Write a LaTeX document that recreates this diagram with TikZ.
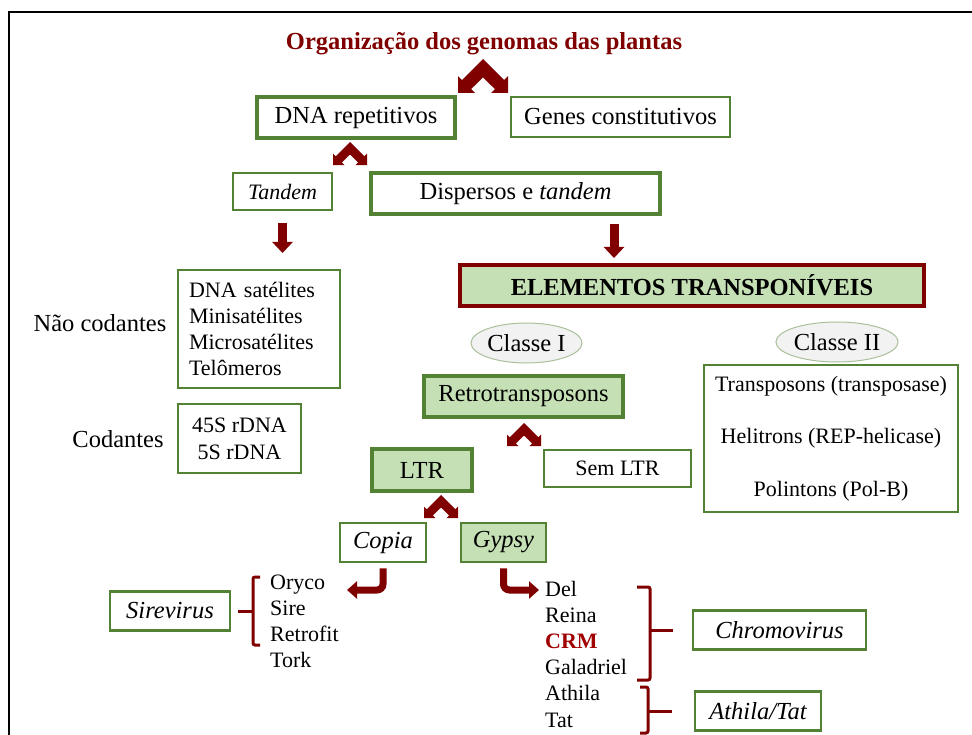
\documentclass[tikz,border=0pt]{standalone}
\usepackage{fontspec}
\setmainfont{Liberation Serif}
\usepackage{tikz}
\usetikzlibrary{arrows.meta,shapes,calc}
\definecolor{tgreen}{RGB}{84,130,53}
\definecolor{lgreen}{RGB}{197,224,180}
\definecolor{dred}{RGB}{128,0,0}
\definecolor{crmred}{RGB}{160,0,0}
\newcommand{\bigtxt}{\fontsize{24.5}{29}\selectfont}
\newcommand{\smalltxt}{\fontsize{22}{26}\selectfont}
\tikzset{
box/.style={draw=tgreen,fill=white,inner sep=0pt,font=\bigtxt},
thickbox/.style={box,line width=3.5pt},
thinbox/.style={box,line width=1.6pt},
midbox/.style={box,line width=2.6pt},
classe/.style={ellipse,draw=tgreen!50,fill=black!5,line width=1pt,inner sep=0pt,font=\bigtxt},
downarrow/.style={draw=dred,line width=9pt,-{Triangle[width=20pt,length=11pt]}},
bentarrow/.style={draw=dred,line width=7pt,rounded corners=6pt,-{Triangle[width=17pt,length=10pt]}},
brace/.style={draw=dred,line width=3pt,rounded corners=2pt},
chevron/.pic={\fill[dred] (0,0) -- (21.1,21.1) -- (25,17.2) -- (25,34) -- (8,34) -- (11.9,30.1) -- (0,18.4) -- (-11.9,30.1) -- (-8,34) -- (-25,34) -- (-25,17.2) -- (-21.1,21.1) -- cycle;}
}

\begin{document}
\begin{tikzpicture}[x=1pt,y=-1pt]
\useasboundingbox (0,0) rectangle (972,735);
\draw[line width=2pt] (8,12) -- (972,12);
\draw[line width=2pt] (9,12) -- (9,735);

\node[font=\bfseries\bigtxt,text=dred] (title) at (484,44) {Organização dos genomas das plantas};
\node[thickbox,minimum width=198,minimum height=41] (dnarep) at (356,117.5) {DNA repetitivos};
\node[thinbox,minimum width=219,minimum height=40] (genes) at (620.5,117) {Genes constitutivos};
\node[thinbox,minimum width=99,minimum height=37,font=\smalltxt\itshape] (tandem) at (282.5,191.5) {Tandem};
\node[thickbox,minimum width=289,minimum height=41] (dispersos) at (515.5,193.5) {Dispersos e \textit{tandem}};
\node[thickbox,draw=dred,fill=lgreen,minimum width=464,minimum height=41,font=\bfseries\bigtxt] (elementos) at (692,285.5) {ELEMENTOS TRANSPONÍVEIS};

\node[font=\bigtxt] (naocod) at (100,323) {Não codantes};
\node[thinbox,text width=140,inner xsep=11,minimum height=118,align=left,font=\fontsize{22}{26}\selectfont] (satbox) at (259,329) {DNA satélites\\Minisatélites\\Microsatélites\\Telômeros};
\node[font=\bigtxt] (cod) at (118,439) {Codantes};
\node[thinbox,minimum width=123,minimum height=69,align=center,font=\fontsize{22}{27}\selectfont] (rdna) at (239.5,438.5) {45S rDNA\\5S rDNA};

\node[classe,minimum width=111,minimum height=40] (classe1) at (526.5,343) {Classe I};
\node[classe,minimum width=116,minimum height=40] (classe2) at (837,342) {Classe II};
\node[thickbox,fill=lgreen,minimum width=199,minimum height=41] (retro) at (523.5,396.5) {Retrotransposons};
\node[thinbox,minimum width=254,minimum height=147,align=center,font=\fontsize{22}{52.5}\selectfont] (classe2box) at (831,438.5) {Transposons (transposase)\\Helitrons (REP-helicase)\\Polintons (Pol-B)};
\node[thickbox,fill=lgreen,minimum width=100,minimum height=42] (ltr) at (422,470) {LTR};
\node[thinbox,minimum width=147,minimum height=37,font=\smalltxt] (semltr) at (617.5,468.5) {Sem LTR};
\node[midbox,minimum width=86,minimum height=39,font=\bigtxt\itshape] (copia) at (383,542.5) {Copia};
\node[midbox,fill=lgreen,minimum width=85,minimum height=39,font=\bigtxt\itshape] (gypsy) at (503.5,542.5) {Gypsy};

\node[midbox,minimum width=120,minimum height=39,font=\bigtxt\itshape] (sirevirus) at (170,611) {Sirevirus};
\node[anchor=base west,align=left,inner sep=0pt,font=\fontsize{22}{25.8}\selectfont] (sirelist) at (270,667) {Oryco\\Sire\\Retrofit\\Tork};
\node[anchor=base west,align=left,inner sep=0pt,font=\fontsize{22}{26.2}\selectfont] (gypsylist) at (545,727) {Del\\Reina\\{\bfseries\color{crmred}CRM}\\Galadriel\\Athila\\Tat};
\node[midbox,minimum width=173,minimum height=39,font=\bigtxt\itshape] (chromo) at (779.5,630) {Chromovirus};
\node[midbox,minimum width=126,minimum height=39,font=\bigtxt\itshape] (athila) at (758,711) {Athila/Tat};

\pic at (483,59) {chevron};
\pic[scale=0.68] at (350,142) {chevron};
\pic[scale=0.68] at (524,423) {chevron};
\pic[scale=0.68] at (441,495) {chevron};

\coordinate (tandtip) at (282.5,253);
\coordinate (disptip) at (614,258);
\draw[downarrow,shorten <=12pt] (tandem) -- (tandtip);
\draw[downarrow,shorten <=8pt] (dispersos.south -| disptip) -- (disptip);

\coordinate (copiatip) at (347,590);
\coordinate (gypsytip) at (539,590);
\draw[bentarrow,shorten <=5pt] (copia) |- (copiatip);
\draw[bentarrow,shorten <=5pt] (gypsy) |- (gypsytip);

\coordinate (sbr) at (253,611);
\coordinate (cbr) at (650,630);
\coordinate (abr) at (648,711);
\draw[brace] (260,577) -- (253,577) -- (253,645) -- (260,645);
\draw[brace] (637,587) -- (650,587) -- (650,680) -- (637,680);
\draw[brace] (640,687) -- (648,687) -- (648,733) -- (640,733);
\draw[brace,shorten >=7pt] (sbr) -- (sirevirus);
\draw[brace,shorten >=19pt] (cbr) -- (chromo);
\draw[brace,shorten >=22pt] (abr) -- (athila);
\end{tikzpicture}
\end{document}
